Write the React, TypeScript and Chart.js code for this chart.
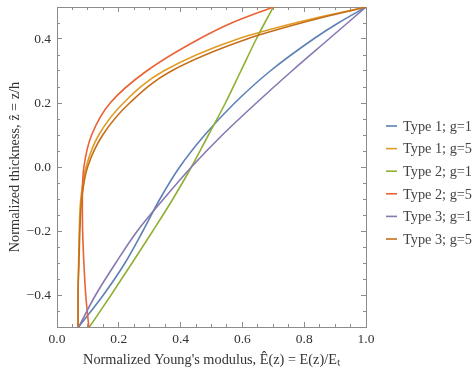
import React, { useEffect, useRef } from "react";
import { Chart, registerables } from "chart.js";

Chart.register(...registerables);

// ---- data ----
const Z_LEVELS = [-0.5, -0.4, -0.3, -0.2, -0.1, 0, 0.1, 0.2, 0.3, 0.4, 0.45, 0.5];

const TYPE1_G1 = [0.07, 0.15, 0.22, 0.278, 0.333, 0.397, 0.478, 0.575, 0.69, 0.83, 0.91, 1.0];
const TYPE1_G5 = [0.068, 0.068, 0.07, 0.072, 0.077, 0.094, 0.135, 0.215, 0.345, 0.585, 0.77, 1.0];
const TYPE2_G1 = [0.105, 0.175, 0.243, 0.31, 0.375, 0.435, 0.49, 0.545, 0.595, 0.645, 0.672, 0.7];
const TYPE2_G5 = [0.103, 0.093, 0.087, 0.083, 0.082, 0.087, 0.112, 0.172, 0.29, 0.46, 0.565, 0.7];
const TYPE3_G1 = [0.07, 0.125, 0.19, 0.26, 0.345, 0.435, 0.535, 0.645, 0.76, 0.88, 0.94, 1.0];
const TYPE3_G5 = [0.068, 0.068, 0.071, 0.074, 0.08, 0.099, 0.148, 0.235, 0.37, 0.615, 0.79, 1.0];

const SERIES_LABELS = ["Type 1; g=1", "Type 1; g=5", "Type 2; g=1", "Type 2; g=5", "Type 3; g=1", "Type 3; g=5"];
const SERIES_VALUES = [TYPE1_G1, TYPE1_G5, TYPE2_G1, TYPE2_G5, TYPE3_G1, TYPE3_G5];
const SERIES_COLORS = ["#5E81B5", "#E19C24", "#8FB032", "#EB6235", "#8778B3", "#C56E1A"];

const X_MAJOR_TICKS = [0, 0.2, 0.4, 0.6, 0.8, 1.0];
const Y_MAJOR_TICKS = [-0.4, -0.2, 0, 0.2, 0.4];
const X_TITLE = "Normalized Young's modulus, Ê(z) = E(z)/Eₜ";
const Y_TITLE = "Normalized thickness, ẑ = z/h";

const FONT_FAMILY = "'Liberation Serif', 'Times New Roman', serif";
const TEXT_COLOR = "#333333";
const LEGEND_TEXT_COLOR = "#444444";
const FRAME_COLOR = "#8c8c8c";

const fmt = (v: number) => {
  const s = (Math.abs(v) < 1e-9 ? 0 : v).toFixed(1);
  return s.replace("-", "\u2212");
};

const sideLegend = {
  id: "sideLegend",
  afterDraw(chart: any) {
    const ctx = chart.ctx;
    const x0 = chart.chartArea.right + 20;
    ctx.save();
    ctx.font = `14.3px ${FONT_FAMILY}`;
    ctx.textBaseline = "middle";
    ctx.textAlign = "left";
    chart.data.datasets.forEach((ds: any, i: number) => {
      const y = 126 + i * 22.6;
      ctx.strokeStyle = ds.borderColor;
      ctx.lineWidth = 1.6;
      ctx.beginPath();
      ctx.moveTo(x0, y);
      ctx.lineTo(x0 + 11, y);
      ctx.stroke();
      ctx.fillStyle = LEGEND_TEXT_COLOR;
      ctx.fillText(ds.label, x0 + 17, y + 1);
    });
    ctx.restore();
  },
};

export default function App() {
  const canvasRef = useRef<HTMLCanvasElement | null>(null);

  useEffect(() => {
    const canvas = canvasRef.current;
    if (!canvas) return;

    const datasets = SERIES_VALUES.map((vals, i) => ({
      label: SERIES_LABELS[i],
      data: vals.map((e, k) => ({ x: e, y: Z_LEVELS[k] })),
      borderColor: SERIES_COLORS[i],
      backgroundColor: SERIES_COLORS[i],
      borderWidth: 1.6,
      pointRadius: 0,
      fill: false,
      cubicInterpolationMode: "monotone" as const,
      xAxisID: "x",
      yAxisID: "y",
      order: SERIES_VALUES.length - i,
    }));

    const tickFont = { family: FONT_FAMILY, size: 13.5 };

    const axis = (
      ax: "x" | "y",
      position: string,
      major: boolean,
      labelled: boolean,
      size: number,
      extra: any = {}
    ) => ({
      type: "linear",
      axis: ax,
      position,
      min: ax === "x" ? 0 : -0.5,
      max: ax === "x" ? 1 : 0.5,
      weight: major ? 1 : 0,
      afterBuildTicks: major
        ? (s: any) => {
            s.ticks = (ax === "x" ? X_MAJOR_TICKS : Y_MAJOR_TICKS).map((v) => ({ value: v }));
          }
        : undefined,
      ticks: {
        display: labelled,
        stepSize: 0.05,
        font: tickFont,
        color: TEXT_COLOR,
        padding: ax === "x" ? 9 : 11,
        maxRotation: 0,
        autoSkip: false,
        callback: (v: any) => fmt(Number(v)),
      },
      grid: {
        drawOnChartArea: false,
        drawTicks: true,
        tickLength: major ? -5 : -3,
        color: FRAME_COLOR,
        tickColor: FRAME_COLOR,
        lineWidth: 1,
        tickWidth: 1,
      },
      border: { display: major, color: FRAME_COLOR, width: 1 },
      afterFit: (s: any) => {
        if (ax === "x") s.height = size;
        else s.width = size;
        s.paddingTop = 0;
        s.paddingBottom = 0;
        s.paddingLeft = 0;
        s.paddingRight = 0;
      },
      ...extra,
    });

    const chart = new Chart(canvas, {
      type: "line",
      data: { datasets },
      plugins: [sideLegend],
      options: {
        responsive: false,
        animation: false,
        devicePixelRatio: 1,
        indexAxis: "y",
        layout: { padding: { top: 7, right: 110, bottom: 0, left: 0 } },
        plugins: { legend: { display: false }, tooltip: { enabled: false } },
        scales: {
          x: axis("x", "bottom", true, true, 47, {
            title: {
              display: true,
              text: X_TITLE,
              font: { family: FONT_FAMILY, size: 14.3 },
              color: TEXT_COLOR,
              padding: { top: 0, bottom: 5 },
            },
          }),
          xMinor: axis("x", "bottom", false, false, 0),
          xTop: axis("x", "top", true, false, 0),
          xTopMinor: axis("x", "top", false, false, 0),
          y: axis("y", "left", true, true, 57, {
            title: {
              display: true,
              text: Y_TITLE,
              font: { family: FONT_FAMILY, size: 14.3 },
              color: TEXT_COLOR,
              padding: { top: 7, bottom: 0 },
            },
          }),
          yMinor: axis("y", "left", false, false, 0),
          yRight: axis("y", "right", true, false, 0),
          yRightMinor: axis("y", "right", false, false, 0),
        } as any,
      } as any,
    });

    return () => chart.destroy();
  }, []);

  return (
    <div style={{ position: "absolute", left: 0, top: 0, width: 476, height: 374, background: "#fff" }}>
      <canvas ref={canvasRef} width={476} height={374} style={{ display: "block", width: 476, height: 374 }} />
    </div>
  );
}
